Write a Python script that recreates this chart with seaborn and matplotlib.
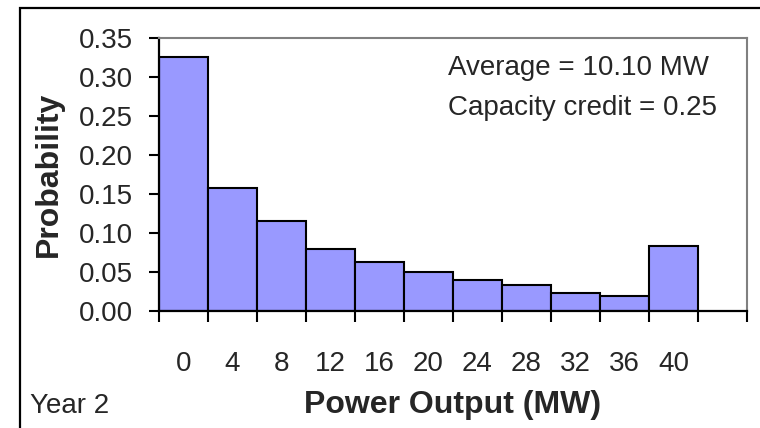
import numpy as np
import pandas as pd
import matplotlib
matplotlib.use("Agg")
import matplotlib.pyplot as plt
from matplotlib.patches import Rectangle
import seaborn as sns

# Power output bins (MW) and their probabilities
power_bins = ["0", "4", "8", "12", "16", "20", "24", "28", "32", "36", "40"]
probability = [0.326, 0.157, 0.115, 0.079, 0.0625, 0.0497, 0.039, 0.0326, 0.0227, 0.0189, 0.0834]
y_ticks = [0.00, 0.05, 0.10, 0.15, 0.20, 0.25, 0.30, 0.35]
stats_lines = ["Average = 10.10 MW", "Capacity credit = 0.25"]
panel_label = "Year 2"

sns.set_theme(style="white")
plt.rcParams["font.family"] = ["Liberation Sans", "DejaVu Sans"]

df = pd.DataFrame({"power": power_bins, "prob": probability})

W, H = 760, 428
fig = plt.figure(figsize=(W / 100, H / 100), dpi=100)
fig.patch.set_facecolor("white")

left, right, top, bottom = 158.7, 747.0, 38.0, 310.7
ax = fig.add_axes([left / W, 1 - bottom / H, (right - left) / W, (bottom - top) / H])

sns.barplot(data=df, x="power", y="prob", order=power_bins, color="#9999FF",
            saturation=1, width=1.0, edgecolor="black", linewidth=1.5, ax=ax)

ax.set_xlim(-0.5, len(power_bins) + 0.5)
ax.set_ylim(0, 0.35)

# y axis
ax.set_yticks(y_ticks)
ax.set_yticklabels([f"{v:.2f}" for v in y_ticks], fontsize=20)
ax.tick_params(axis="y", direction="out", left=True, length=7.5, width=1.5,
               color="black", pad=11)

# x axis: tick marks at bin edges, labels centred under the bars
ax.set_xticks(np.arange(-0.5, len(power_bins) + 1, 1.0))
ax.set_xticklabels([])
ax.tick_params(axis="x", which="major", direction="out", length=8, width=1.5,
               color="black", bottom=True)
ax.set_xticks(np.arange(len(power_bins)), minor=True)
ax.set_xticklabels(power_bins, minor=True, fontsize=20)
ax.tick_params(axis="x", which="minor", length=0, pad=29)

for side in ("left", "bottom"):
    ax.spines[side].set_color("black")
    ax.spines[side].set_linewidth(1.6)
for side in ("top", "right"):
    ax.spines[side].set_visible(True)
    ax.spines[side].set_color("#808080")
    ax.spines[side].set_linewidth(1.5)

ax.set_xlabel("Power Output (MW)", fontsize=23, fontweight="bold", va="baseline")
ax.xaxis.set_label_coords(0.5, (bottom - 413) / (bottom - top))
ax.set_ylabel("Probability", fontsize=23, fontweight="bold", va="baseline")
ax.yaxis.set_label_coords((56.7 - left) / (right - left), 0.5)

# Summary statistics
for txt, base in zip(stats_lines, (75, 115)):
    ax.text((448 - left) / (right - left), (bottom - base) / (bottom - top), txt,
            transform=ax.transAxes, fontsize=20, ha="left", va="baseline")

fig.text(30 / W, 1 - 413 / H, panel_label, fontsize=20, ha="left", va="baseline")

# Outer frame around the chart
fig.patches.append(Rectangle((20 / W, -0.2), 1.2, 0.2 + (1 - 8 / H),
                             transform=fig.transFigure, fill=False,
                             edgecolor="black", linewidth=1.6))

fig.savefig("out.png", dpi=100)
